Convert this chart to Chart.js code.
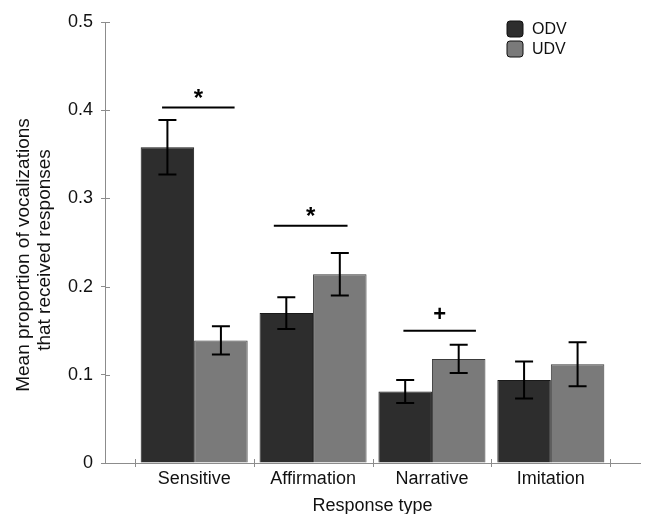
<!DOCTYPE html>
<html>
<head>
<meta charset="utf-8">
<script src="https://cdn.jsdelivr.net/npm/chart.js@4/dist/chart.umd.min.js"></script>
<style>
  html, body { margin: 0; padding: 0; background: #fff; }
  #wrap { width: 654px; height: 514px; position: relative; }
</style>
</head>
<body>
<div id="wrap"><canvas id="c" width="654" height="514"></canvas></div>
<script>
// ---- data ----
const categories = ['Sensitive', 'Affirmation', 'Narrative', 'Imitation'];
const seriesNames = ['ODV', 'UDV'];
const odvMeans = [0.358, 0.170, 0.081, 0.094];
const udvMeans = [0.139, 0.214, 0.118, 0.112];
const odvSE = [0.031, 0.018, 0.013, 0.021];
const udvSE = [0.016, 0.024, 0.016, 0.025];
const yTicks = [0, 0.1, 0.2, 0.3, 0.4, 0.5];
const yTitleLines = ['Mean proportion of vocalizations', 'that received responses'];
const sigMarks = ['*', '*', '+'];
const sigLevels = [0.403, 0.269, 0.150];
const sigFrom = [-0.27, -0.33, -0.24];
const sigTo = [0.34, 0.29, 0.37];

const FONT = '"Liberation Sans", Arial, Helvetica, sans-serif';
const colors = ['#2d2d2d', '#7a7a7a'];
const borders = ['#1a1a1a', '#3a3a3a'];
const errors = [odvSE, udvSE];

const datasets = [odvMeans, udvMeans].map((arr, i) => ({
  label: seriesNames[i],
  data: arr.map((v, k) => ({ x: k, y: v })),
  backgroundColor: colors[i],
  borderColor: borders[i],
  borderWidth: 1,
  categoryPercentage: 0.9,
  barPercentage: 1.0
}));

const extras = {
  id: 'extras',
  afterDatasetsDraw(chart) {
    const ctx = chart.ctx;
    const xs = chart.scales.x, ys = chart.scales.y;
    ctx.save();
    // error bars
    ctx.strokeStyle = '#000';
    ctx.lineWidth = 2;
    chart.data.datasets.forEach((ds, di) => {
      const meta = chart.getDatasetMeta(di);
      meta.data.forEach((el, k) => {
        const m = ds.data[k].y, e = errors[di][k];
        const yt = ys.getPixelForValue(m + e), yb = ys.getPixelForValue(m - e);
        const x = el.x;
        ctx.beginPath();
        ctx.moveTo(x, yt); ctx.lineTo(x, yb);
        ctx.moveTo(x - 9, yt); ctx.lineTo(x + 9, yt);
        ctx.moveTo(x - 9, yb); ctx.lineTo(x + 9, yb);
        ctx.stroke();
      });
    });
    // significance
    ctx.fillStyle = '#000';
    ctx.textAlign = 'center';
    sigMarks.forEach((s, k) => {
      const y = ys.getPixelForValue(sigLevels[k]);
      const x1 = xs.getPixelForValue(k + sigFrom[k]);
      const x2 = xs.getPixelForValue(k + sigTo[k]);
      ctx.beginPath();
      ctx.moveTo(x1, y); ctx.lineTo(x2, y);
      ctx.stroke();
      const cx = (x1 + x2) / 2;
      ctx.textBaseline = 'middle';
      if (s === '*') {
        ctx.font = 'bold 24px ' + FONT;
        ctx.fillText(s, cx, y - 8);
      } else {
        ctx.font = 'bold 22px ' + FONT;
        ctx.fillText(s, cx, y - 16);
      }
    });
    // axis tick marks
    ctx.strokeStyle = '#8c8c8c';
    ctx.lineWidth = 1;
    const base = ys.getPixelForValue(0);
    for (let k = 0; k <= categories.length; k++) {
      const x = Math.round(xs.getPixelForValue(k - 0.5)) + 0.5;
      ctx.beginPath();
      ctx.moveTo(x, base - 4); ctx.lineTo(x, base + 4);
      ctx.stroke();
    }
    const ax = chart.chartArea.left;
    yTicks.forEach(v => {
      if (v === 0) return;
      const y = Math.round(ys.getPixelForValue(v)) + 0.5;
      ctx.beginPath();
      ctx.moveTo(ax, y); ctx.lineTo(ax + 5, y);
      ctx.stroke();
    });
    // y-axis title (two rotated lines)
    ctx.fillStyle = '#111';
    ctx.font = '19px ' + FONT;
    ctx.textAlign = 'center';
    ctx.textBaseline = 'middle';
    const tpos = [[24, 255], [45, 250]];
    yTitleLines.forEach((t, i) => {
      ctx.save();
      ctx.translate(tpos[i][0], tpos[i][1]);
      ctx.rotate(-Math.PI / 2);
      ctx.fillText(t, 0, 0);
      ctx.restore();
    });
    // legend
    const lx = 507, ly = [21, 41];
    seriesNames.forEach((n, i) => {
      ctx.fillStyle = colors[i];
      ctx.strokeStyle = '#111';
      ctx.lineWidth = 1;
      ctx.beginPath();
      ctx.roundRect(lx, ly[i], 16, 16, 3);
      ctx.fill(); ctx.stroke();
      ctx.fillStyle = '#111';
      ctx.font = '16px ' + FONT;
      ctx.textAlign = 'left';
      ctx.textBaseline = 'middle';
      ctx.fillText(n, lx + 25, ly[i] + 8.5);
    });
    ctx.restore();
  }
};

new Chart(document.getElementById('c'), {
  type: 'bar',
  data: { datasets },
  options: {
    responsive: false,
    animation: false,
    events: [],
    layout: { padding: { left: 0, right: 14, top: 22, bottom: 0 } },
    plugins: { legend: { display: false }, tooltip: { enabled: false } },
    scales: {
      x: {
        type: 'linear',
        offset: false,
        min: -0.75,
        max: 3.75,
        afterBuildTicks(scale) {
          scale.ticks = categories.map((c, k) => ({ value: k }));
        },
        afterFit(scale) { scale.height = 51; },
        ticks: {
          callback: (v) => categories[v] ?? '',
          font: { family: FONT, size: 18 },
          color: '#111',
          padding: 5,
          maxRotation: 0,
          autoSkip: false
        },
        grid: { display: false, drawTicks: false, offset: false },
        border: { display: true, color: '#8c8c8c', width: 1 },
        title: {
          display: true,
          text: 'Response type',
          font: { family: FONT, size: 18 },
          color: '#111',
          padding: { top: 4, bottom: -3 }
        }
      },
      y: {
        min: 0,
        max: 0.5,
        afterBuildTicks(scale) {
          scale.ticks = yTicks.map(v => ({ value: v }));
        },
        afterFit(scale) { scale.width = 105; },
        ticks: {
          callback: (v) => (v === 0 ? '0' : v.toFixed(1)),
          font: { family: FONT, size: 18 },
          color: '#111',
          padding: 8
        },
        grid: { drawOnChartArea: false, drawTicks: true, tickLength: 4, color: '#8c8c8c' },
        border: { display: true, color: '#8c8c8c', width: 1 },
        title: { display: false }
      }
    }
  },
  plugins: [extras]
});
</script>
</body>
</html>
